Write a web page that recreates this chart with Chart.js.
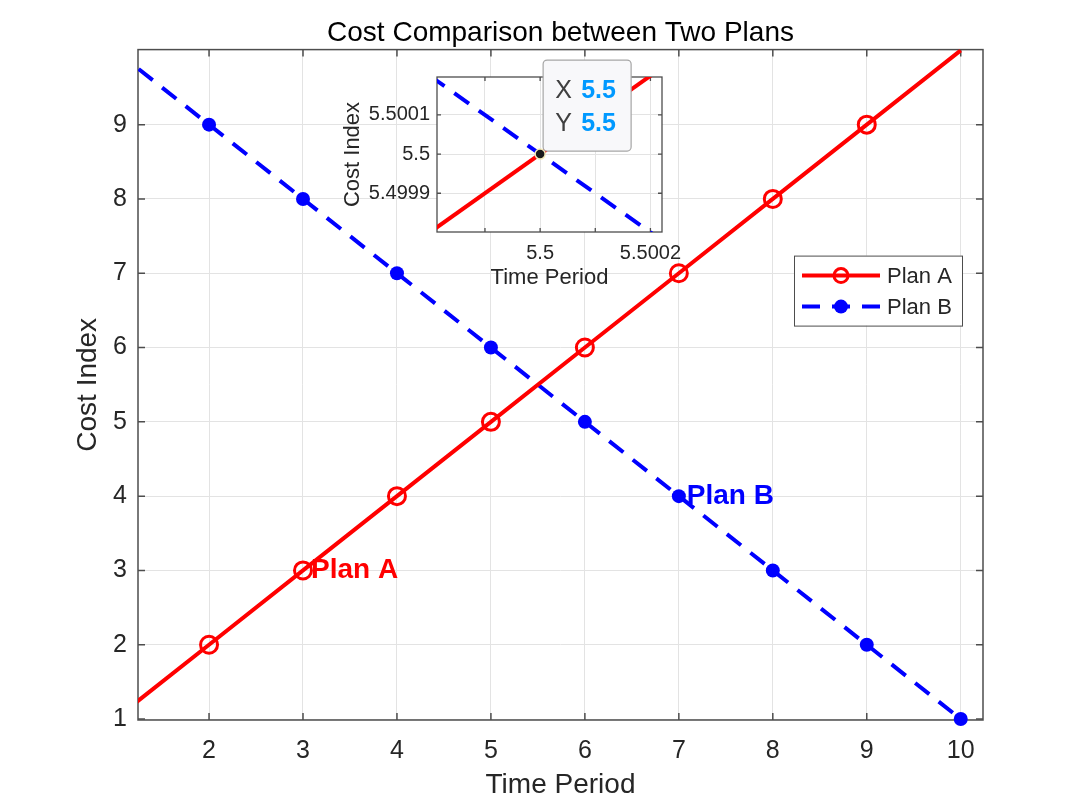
<!DOCTYPE html>
<html>
<head>
<meta charset="utf-8">
<script src="https://cdn.jsdelivr.net/npm/chart.js@4"></script>
<style>
  body { margin: 0; background: #fff; }
  #wrap { position: relative; width: 1080px; height: 807px; }
  #insetChart { position: absolute; left: 330px; top: 40px; }
</style>
</head>
<body>
<div id="wrap">
  <canvas id="mainChart" width="1080" height="807"></canvas>
  <canvas id="insetChart" width="370" height="260"></canvas>
</div>
<script>
// data
const timePeriod = [1, 2, 3, 4, 5, 6, 7, 8, 9, 10];
const planA = [1, 2, 3, 4, 5, 6, 7, 8, 9, 10];
const planB = [10, 9, 8, 7, 6, 5, 4, 3, 2, 1];
const planAMarkers = [2, 3, 4, 5, 6, 7, 8, 9];
const planBMarkers = [2, 3, 4, 5, 6, 7, 8, 9, 10];
const xTicks = [2, 3, 4, 5, 6, 7, 8, 9, 10];
const yTicks = [1, 2, 3, 4, 5, 6, 7, 8, 9];
const noteText = ['Plan A', 'Plan B'];
const noteX = [3, 7];
const noteY = [3, 4];

// inset (zoom on the crossing), ends of the visible segments
const insetTime = [5.4998, 5.50025];
const insetPlanA = [5.4998, 5.50025];
const insetPlanB = [5.5002, 5.49975];
const insetXTicks = [5.4999, 5.5, 5.5001, 5.5002];
const insetXLabels = ['', '5.5', '', '5.5002'];
const insetYTicks = [5.4999, 5.5, 5.5001];
const insetYLabels = ['5.4999', '5.5', '5.5001'];
const tipX = [5.5];
const tipY = [5.5];

const FONT = "'Liberation Sans', Arial, sans-serif";
const RED = '#ff0000';
const BLUE = '#0000ff';
const AXIS = '#4d4d4d';
const GRID = '#e3e3e3';
Chart.defaults.font.family = FONT;
Chart.defaults.color = '#262626';

function points(xs, ys) {
    return xs.map((x, i) => ({ x: x, y: ys[i] }));
}

// box round the axes with MATLAB style inward ticks
const axesBox = {
    id: 'axesBox',
    beforeDatasetsDraw(chart, args, opts) {
        const { ctx, chartArea: a, scales: { x, y } } = chart;
        ctx.save();
        ctx.strokeStyle = AXIS;
        ctx.lineWidth = opts.width;
        ctx.beginPath();
        x.ticks.forEach(t => {
            const px = x.getPixelForValue(t.value);
            ctx.moveTo(px, a.bottom); ctx.lineTo(px, a.bottom - opts.tick);
            ctx.moveTo(px, a.top); ctx.lineTo(px, a.top + opts.tick);
        });
        y.ticks.forEach(t => {
            const py = y.getPixelForValue(t.value);
            ctx.moveTo(a.left, py); ctx.lineTo(a.left + opts.tick, py);
            ctx.moveTo(a.right, py); ctx.lineTo(a.right - opts.tick, py);
        });
        ctx.stroke();
        ctx.strokeRect(a.left, a.top, a.right - a.left, a.bottom - a.top);
        ctx.restore();
    }
};

// white plot area for the inset, the rest of its canvas stays see-through
const plotBackground = {
    id: 'plotBackground',
    beforeDraw(chart) {
        const { ctx, chartArea: a } = chart;
        ctx.save();
        ctx.fillStyle = '#fff';
        ctx.fillRect(a.left, a.top, a.right - a.left, a.bottom - a.top);
        ctx.restore();
    }
};

const notes = {
    id: 'notes',
    afterDatasetsDraw(chart) {
        const { ctx, scales: { x, y } } = chart;
        ctx.save();
        ctx.font = 'bold 28px ' + FONT;
        ctx.textAlign = 'left';
        ctx.textBaseline = 'middle';
        noteText.forEach((t, i) => {
            ctx.fillStyle = chart.data.datasets[i].borderColor;
            ctx.fillText(t, x.getPixelForValue(noteX[i]) + 8, y.getPixelForValue(noteY[i]));
        });
        ctx.restore();
    }
};

const lineLegend = {
    id: 'lineLegend',
    afterDraw(chart) {
        const { ctx, chartArea: a } = chart;
        const w = 168, h = 70;
        const bx = a.right - 21 - w, by = a.top + 206;
        ctx.save();
        ctx.fillStyle = '#fff';
        ctx.fillRect(bx, by, w, h);
        ctx.strokeStyle = AXIS;
        ctx.lineWidth = 1;
        ctx.strokeRect(bx + 0.5, by + 0.5, w, h);
        chart.data.datasets.forEach((ds, i) => {
            const ly = by + 20 + i * 31;
            ctx.strokeStyle = ds.borderColor;
            ctx.lineWidth = ds.borderWidth;
            ctx.setLineDash(ds.borderDash || []);
            ctx.beginPath();
            ctx.moveTo(bx + 8, ly);
            ctx.lineTo(bx + 86, ly);
            ctx.stroke();
            ctx.setLineDash([]);
            ctx.beginPath();
            ctx.arc(bx + 47, ly, ds.legendRadius, 0, Math.PI * 2);
            if (ds.pointBackgroundColor !== 'transparent') {
                ctx.fillStyle = ds.pointBackgroundColor;
                ctx.fill();
            } else {
                ctx.lineWidth = ds.pointBorderWidth;
                ctx.stroke();
            }
            ctx.fillStyle = '#262626';
            ctx.font = '22px ' + FONT;
            ctx.textAlign = 'left';
            ctx.textBaseline = 'middle';
            ctx.fillText(ds.label, bx + 93, ly + 1);
        });
        ctx.restore();
    }
};

const dataTip = {
    id: 'dataTip',
    afterDraw(chart) {
        const { ctx, scales: { x, y } } = chart;
        const px = x.getPixelForValue(tipX[0]);
        const py = y.getPixelForValue(tipY[0]);
        const bx = px + 3, by = py - 94, w = 88, h = 91;
        ctx.save();
        ctx.fillStyle = '#f8f8fa';
        ctx.strokeStyle = '#a6a6a6';
        ctx.lineWidth = 1.2;
        ctx.beginPath();
        ctx.roundRect(bx, by, w, h, 4);
        ctx.fill();
        ctx.stroke();
        ctx.textBaseline = 'middle';
        ctx.textAlign = 'left';
        ctx.font = '25px ' + FONT;
        ctx.fillStyle = '#404040';
        ctx.fillText('X', bx + 12, by + 31);
        ctx.fillText('Y', bx + 12, by + 64);
        ctx.font = 'bold 25px ' + FONT;
        ctx.fillStyle = '#0099ff';
        ctx.fillText(String(tipX[0]), bx + 38, by + 31);
        ctx.fillText(String(tipY[0]), bx + 38, by + 64);
        ctx.restore();
    }
};

function setTicks(values) {
    return scale => { scale.ticks = values.map(v => ({ value: v })); };
}

new Chart(document.getElementById('mainChart'), {
    type: 'scatter',
    data: {
        datasets: [{
            label: 'Plan A',
            data: points(timePeriod, planA),
            showLine: true,
            borderColor: RED,
            borderWidth: 4,
            pointRadius: timePeriod.map(x => planAMarkers.includes(x) ? 8.5 : 0),
            pointBorderWidth: 3,
            pointBorderColor: RED,
            pointBackgroundColor: 'transparent',
            legendRadius: 7,
            clip: { left: 0, top: 0, right: 0, bottom: 10 }
        }, {
            label: 'Plan B',
            data: points(timePeriod, planB),
            showLine: true,
            borderColor: BLUE,
            borderWidth: 4,
            borderDash: [18, 12],
            pointRadius: timePeriod.map(x => planBMarkers.includes(x) ? 7 : 0),
            pointBorderWidth: 0,
            pointBackgroundColor: BLUE,
            legendRadius: 7,
            clip: { left: 0, top: 0, right: 0, bottom: 10 }
        }]
    },
    options: {
        responsive: false,
        animation: false,
        events: [],
        layout: { padding: { left: 0, right: 97, top: 0, bottom: 0 } },
        plugins: {
            legend: { display: false },
            tooltip: { enabled: false },
            title: {
                display: true,
                text: 'Cost Comparison between Two Plans',
                fullSize: false,
                color: '#000',
                font: { size: 28, weight: 'normal' },
                padding: { top: 16, bottom: 0 }
            },
            axesBox: { width: 1.5, tick: 7 }
        },
        scales: {
            x: {
                type: 'linear',
                min: 1.244,
                max: 10.237,
                afterBuildTicks: setTicks(xTicks),
                afterFit: s => { s.height = 87; },
                grid: { color: GRID, drawTicks: false },
                border: { display: false },
                ticks: { font: { size: 25 }, padding: 16, maxRotation: 0, autoSkip: false },
                title: { display: true, text: 'Time Period', font: { size: 28 }, padding: { top: 0, bottom: 5 } }
            },
            y: {
                type: 'linear',
                min: 0.987,
                max: 10.01,
                afterBuildTicks: setTicks(yTicks),
                afterFit: s => { s.width = 138; },
                grid: { color: GRID, drawTicks: false },
                border: { display: false },
                ticks: { font: { size: 25 }, padding: 11, autoSkip: false },
                title: { display: true, text: 'Cost Index', font: { size: 28 }, padding: { top: 71, bottom: 0 } }
            }
        }
    },
    plugins: [axesBox, notes, lineLegend]
});

// zoomed inset round the crossing point
new Chart(document.getElementById('insetChart'), {
    type: 'scatter',
    data: {
        datasets: [{
            label: 'Plan A',
            data: points(insetTime, insetPlanA),
            showLine: true,
            borderColor: RED,
            borderWidth: 4,
            pointRadius: 0,
            clip: 0
        }, {
            label: 'Plan B',
            data: points(insetTime, insetPlanB),
            showLine: true,
            borderColor: BLUE,
            borderWidth: 4,
            borderDash: [18, 12],
            pointRadius: 0,
            clip: 0
        }, {
            label: 'Tip',
            data: points(tipX, tipY),
            order: -1,
            pointRadius: 5,
            pointBorderWidth: 1.5,
            pointBorderColor: '#f2e9b8',
            pointBackgroundColor: '#1a1a1a',
            clip: false
        }]
    },
    options: {
        responsive: false,
        animation: false,
        events: [],
        layout: { padding: { left: 0, right: 38, top: 37, bottom: 0 } },
        plugins: {
            legend: { display: false },
            tooltip: { enabled: false },
            axesBox: { width: 1.3, tick: 4 }
        },
        scales: {
            x: {
                type: 'linear',
                min: 5.499813,
                max: 5.500221,
                afterBuildTicks: setTicks(insetXTicks),
                afterFit: s => { s.height = 68; },
                grid: { color: GRID, drawTicks: false },
                border: { display: false },
                ticks: { font: { size: 20 }, padding: 9, maxRotation: 0, autoSkip: false,
                         callback: (v, i) => insetXLabels[i] },
                title: { display: true, text: 'Time Period', font: { size: 22 }, padding: { top: 0, bottom: 9 } }
            },
            y: {
                type: 'linear',
                min: 5.499801,
                max: 5.500197,
                afterBuildTicks: setTicks(insetYTicks),
                afterFit: s => { s.width = 107; },
                grid: { color: GRID, drawTicks: false },
                border: { display: false },
                ticks: { font: { size: 20 }, padding: 7, autoSkip: false,
                         callback: (v, i) => insetYLabels[i] },
                title: { display: true, text: 'Cost Index', font: { size: 22 }, padding: { top: 10, bottom: 0 } }
            }
        }
    },
    plugins: [plotBackground, axesBox, dataTip]
});
</script>
</body>
</html>
